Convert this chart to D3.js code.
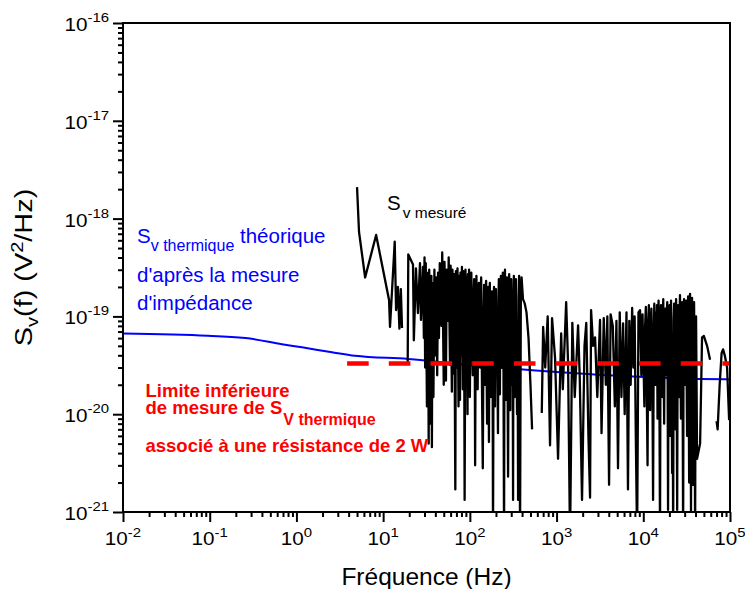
<!DOCTYPE html>
<html><head><meta charset="utf-8">
<script src="https://cdn.jsdelivr.net/npm/d3@7/dist/d3.min.js"></script>
<style>
body{margin:0;background:#fff}
svg{display:block}
text{font-family:"Liberation Sans",Arial,Helvetica,sans-serif}
</style>
</head><body>
<svg id="chart" width="745" height="589"></svg>
<script>
// ---------- data ----------
const xMajorTicks = [1e-2, 1e-1, 1e0, 1e1, 1e2, 1e3, 1e4, 1e5];
const xTickExponents = ["-2", "-1", "0", "1", "2", "3", "4", "5"];
const yMajorTicks = [1e-21, 1e-20, 1e-19, 1e-18, 1e-17, 1e-16];
const yTickExponents = ["-21", "-20", "-19", "-18", "-17", "-16"];

// theoretical thermal noise from impedance measurement (blue)
const theoFreq = [0.01, 0.095, 0.277, 0.68, 1.16, 2.57, 4.74, 19.4, 100, 1000, 10000, 45000, 100000];
const theoPsd  = [6.7e-20, 6.35e-20, 5.97e-20, 5.2e-20, 4.83e-20, 4.3e-20, 3.96e-20, 3.67e-20, 3.18e-20, 2.7e-20, 2.4e-20, 2.29e-20, 2.27e-20];

// lower measurement limit (red dashed)
const limitFreq = [3.84, 100000];
const limitPsd  = [3.3e-20, 3.3e-20];

// measured spectrum (black); null = point not drawable on log scale
const measFreq = [
  5.0, 5.27, 6.2, 8.3, 11.7, 12.0, 13.6, 14.1, 14.8, 15.4, 16.0, 16.5, 17.5, 19.2, 19.5, 22.1, 22.6, 23.9, 25.2, 26.6, 27.3, 28.8,
  29.5, 30, 30.5, 31, 32, 33, 33.5, 34, 35, 36, 36.5, 37, 38, 39, 40, 41, 42, 43, 44, 45,
  47, 48, 50, 51, 53, 54, 56, 57, 59, 60, 62, 63, 65, 66, 68, 69, 71, 72, 74, 75, 77, 78, 80, 81, 83, 84, 86, 87, 89, 91, 92, 94, 95, 97, 98,
  100, 102, 104, 106, 108, 110, 112, 114, 115, 117, 119, 121, 123, 125, 127, 129, 131, 133, 135, 137, 139, 141, 144, 146, 148, 150,
  152, 154, 156, 158, 160, 162, 164, 166, 168, 170, 172, 175, 178, 180, 183, 185, 188, 190, 193, 195, 198, 200, 203, 205, 208, 211,
  214, 216, 219, 222, 225, 228, 231, 234, 237, 240, 244, 248, 251, 254, 257, 260, 264, 268, 272, 276, 280, 284, 288, 292, 296, 300,
  304, 308, 312, 315, 318, 322, 326, 330, 335, 340, 345, 350, 355, 360, 365, 370, 375, 379, 387, 395, 410, 430, 450, 475, 500, 522, 600,
  675, 700, 740, 790, 841, 887, 960, 1040, 1130, 1180, 1290, 1357, 1430, 1520, 1620, 1770, 1850, 1966, 2100, 2200, 2330, 2433, 2500, 2640, 2780, 2950, 3170,
  3300, 3500, 3700, 3850, 4030, 4200, 4450, 4700, 4900, 5110, 5350, 5600, 5850, 6100, 6400, 6660, 6900, 7150, 7440, 7700, 7950, 8200, 8490, 8800, 9180, 9500, 9800,
  10300, 10500, 10700, 10950, 11200, 11400, 11600, 11800, 12000, 12200, 12400, 12700, 12970, 13200, 13400, 13600, 13800, 14000, 14200, 14400,
  14600, 14800, 15000, 15300, 15600, 15800, 16000, 16250, 16500, 16750, 17000, 17200, 17400, 17650, 17900, 18150, 18400, 18650, 18900, 19100,
  19300, 19550, 19800, 20100, 20400, 20650, 20900, 21200, 21500, 21800, 22100, 22400, 22700, 23000, 23300, 23600, 23900, 24250, 24600, 24900,
  25200, 25550, 25900, 26200, 26500, 26850, 27200, 27600, 28000, 28400, 28800, 29150, 29500, 29900, 30300, 30750, 31200, 31600, 32000, 32450,
  32900, 33350, 33800, 34200, 34600, 35050, 35500, 36000, 36500, 37000, 37500, 38000, 38500, 39050, 39600, 40100, 40600, 41150, 41700,
  45200, 47600, 50000, 54400, 58900, 64000, 70000, 72000, 76000, 80000, 83200, 87000, 92600, 97700
];
const measPsd = [
  2.1e-18, 7.3e-19, 2.5e-19, 6.8e-19, 1.47e-19, 7.8e-20, 5.8e-19, 1.16e-19, 2.0e-19, 7.5e-20, 1.9e-19, 7.6e-20, null, 3.4e-20, 4.3e-19, 3.4e-19, 5.7e-20, 3.1e-19, 1.08e-19, 3.5e-19, 9.2e-20, 3.2e-19,
  6e-20, 4e-19, 3e-20, 3.5e-19, 1.2e-20, 2.8e-19, 5e-21, 3e-19, 8e-21, 2.6e-19, 4.6e-21, 2.2e-19, 1.5e-20, 3e-19, 4e-20, 2.5e-19, 2.5e-20, 2.8e-19, 6e-20, 3.5e-19,
  8e-20, 4.5e-19, 2e-20, 3.6e-19, 2.2e-20, 3e-19, 9e-20, 4e-19, 3.2e-20, 3.3e-19, 1.7e-20, 3e-19, 2.6e-20, 2.7e-19, 1.7e-21, 2.9e-19, 3e-20, 3.1e-19, 1.2e-20, 2.6e-19,
  1.4e-20, 2.8e-19, 4e-20, 3.2e-19, 1.8e-20, 2.9e-19, 6e-20, 1.33e-21, 3e-19, 3e-20, 2.5e-19, 1e-20, 2.7e-19, 4.5e-20, 3e-19,
  1.5e-20, 1.2e-19, 2.8e-19, 6e-20, 2.5e-20, 1.5e-19, 2.4e-19, 3e-20, 3e-21, 1e-19, 2.6e-19, 7e-20, 1.8e-20, 1.3e-19, 2.2e-19, 5e-20, 3e-20, 1.6e-19, 2.5e-19, 4e-20,
  1e-20, 2.8e-21, 1.1e-19, 2.1e-19, 6e-20, 2e-20,
  1.4e-19, 2.3e-19, 3e-20, 8e-21, 9e-20, 2e-19, 3e-20, 5.2e-21, 1.2e-19, 2.2e-19, 5e-20, 1.5e-20, 1e-19, 1.8e-19, 4e-20, 5e-22, 1.1e-19, 2e-19, 5e-20, 1.2e-20,
  1.3e-19, 1.9e-19, 6e-20, 2.5e-20, 3e-20, 6.4e-21,
  1.5e-19, 2.4e-19, 5e-20, 1.6e-20, 1.2e-19, 2.6e-19, 7e-20, 3e-20, 1.4e-19, 2.8e-19, 4e-20, 5e-22, 1.6e-19, 3e-19, 6e-20, 1.4e-20, 1.5e-19, 2.5e-19, 3e-20, 2.3e-21,
  1.2e-19, 2.7e-19, 5e-20, 1.1e-20, 1.3e-19, 2.4e-19,
  6e-20, 2e-20, 4e-20, 1.33e-21, 1.4e-19, 2.6e-19, 5e-20, 1.5e-20, 1.3e-19, 2.4e-19, 4e-20, 1e-20, 9e-20, 1.33e-21, 1.5e-19, 2.6e-19, 3e-20, 5e-22, 1.5e-19, 2.5e-19,
  1.5e-19, 1.35e-19, 1.1e-19, 6e-20, 2e-20, 7e-21, null,
  1.03e-20, 7.8e-20, 3e-20, 1e-19, 4.8e-21, 9.6e-20, 3.8e-20, 3.5e-21, 6.7e-20, 1.8e-20, 1.4e-19, 3.3e-20, 5e-22, 8.6e-20, 1.5e-20, 8.1e-20, 2.4e-20, 1.33e-21, 5e-20, 8.6e-20,
  6e-21, 1.4e-21, 1.16e-19, 5e-20, 6.1e-20, 1.5e-20, 9.2e-20,
  6.4e-21, 9.6e-20, 2e-20, 1e-19, 1.9e-21, 1.05e-19, 8e-20, 1.2e-20, 9e-20, 2.8e-21, 1.1e-19, 1.5e-20, 8.5e-20, 1e-20, 1.1e-19, 1.7e-21, 9e-20, 2e-20, 1.22e-19, 3e-20,
  1e-19, 6e-21, 5e-22, 1.1e-19, 1.16e-19, 2.5e-20, 1.05e-19,
  1.2e-20, 8e-20, 1.25e-19, 2e-20, 3e-21, 9e-20, 1.3e-19, 3e-20, 1.1e-20, 7e-20, 1.2e-19, 4e-20, 1.33e-21, 6e-20, 1.35e-19, 5e-20, 2e-20, 1.1e-19, 6e-20, 1.3e-19,
  9e-21, 5e-20, 1.45e-19, 3e-20, 5e-22, 8e-20, 1.3e-19, 4e-20, 1.5e-20, 1e-19, 1.5e-19, 3e-20, 8e-21, 7e-20, 1.2e-19, 5e-20, 2.5e-20, 1.1e-19, 1.4e-19, 2e-20,
  1.05e-21, 5e-20, 7e-20, 1.3e-19, 6e-21, 6e-20, 1.45e-19, 3e-20, 2.5e-21, 4e-20, 5e-22, 9e-20, 1.35e-19, 4e-20, 7e-21, 8e-20, 1.5e-19, 2.5e-20, 1.05e-21, 7e-20,
  1.3e-19, 5e-20, 1.5e-20, 9e-20, 1.65e-19, 3e-20, 9e-21, 1e-19, 1.4e-19, 3e-20, 5e-22, 8e-20, 1.5e-19, 5e-20, 2e-20, 1.2e-19, 1.45e-19, 2.5e-20, 6e-21, 9e-20,
  1.6e-19, 3e-20, 2e-21, 7e-20, 1.7e-19, 4e-20, 1e-21, 8e-20, 1.55e-19, 2e-20, 1.9e-21, 6e-20, 1.4e-19, 3e-20, 5e-22, 5e-20, 1e-19, 2e-20, 3.5e-21,
  5e-21, 6.1e-20, 6.3e-20, 5e-20, 3.6e-20, null, 8.5e-21, 7e-21, 2e-20, 4.2e-20, 4.6e-20, 4e-20, 3e-20, 8.7e-21
];

// ---------- layout ----------
const plot = {left: 123, right: 730, top: 23, bottom: 512};
const svg = d3.select("#chart");

const x = d3.scaleLog().domain([1e-2, 1e5]).range([plot.left, plot.right]);
const y = d3.scaleLog().domain([1e-21, 1e-16]).range([plot.bottom, plot.top]);

// minor ticks
const xMinor = [], yMinor = [];
xMajorTicks.slice(0, -1).forEach(d => { for (let m = 2; m <= 9; m++) xMinor.push(d * m); });
yMajorTicks.slice(0, -1).forEach(d => { for (let m = 2; m <= 9; m++) yMinor.push(d * m); });

svg.append("defs").append("clipPath").attr("id", "clip")
  .append("rect").attr("x", plot.left).attr("y", plot.top)
  .attr("width", plot.right - plot.left).attr("height", plot.bottom - plot.top);

const g = svg.append("g").attr("clip-path", "url(#clip)");

// blue theoretical curve
const theo = theoFreq.map((f, i) => [f, theoPsd[i]]);
g.append("path").datum(theo)
  .attr("fill", "none").attr("stroke", "#0000ff").attr("stroke-width", 2)
  .attr("d", d3.line().x(d => x(d[0])).y(d => y(d[1])).curve(d3.curveMonotoneX));

// black measured curve
const meas = measFreq.map((f, i) => [f, measPsd[i]]);
g.append("path").datum(meas)
  .attr("fill", "none").attr("stroke", "#000").attr("stroke-width", 2.3)
  .attr("stroke-linejoin", "round")
  .attr("d", d3.line().defined(d => d[1] !== null).x(d => x(d[0])).y(d => y(d[1])));

// red dashed limit
const lim = limitFreq.map((f, i) => [f, limitPsd[i]]);
g.append("path").datum(lim)
  .attr("fill", "none").attr("stroke", "#ff0000").attr("stroke-width", 4.5)
  .attr("stroke-dasharray", "21.6,20.1")
  .attr("d", d3.line().x(d => x(d[0])).y(d => y(d[1])));

// axes
const axStyle = sel => {
  sel.select(".domain").remove();
  sel.selectAll("line").attr("stroke", "#000").attr("stroke-width", 2);
};
svg.append("g").attr("transform", `translate(0,${plot.bottom})`)
  .call(d3.axisBottom(x).tickValues(xMajorTicks).tickSize(10).tickFormat(""))
  .call(axStyle);
svg.append("g").attr("transform", `translate(0,${plot.bottom})`)
  .call(d3.axisBottom(x).tickValues(xMinor).tickSize(5).tickFormat(""))
  .call(axStyle);
svg.append("g").attr("transform", `translate(${plot.left},0)`)
  .call(d3.axisLeft(y).tickValues(yMajorTicks).tickSize(10).tickFormat(""))
  .call(axStyle);
svg.append("g").attr("transform", `translate(${plot.left},0)`)
  .call(d3.axisLeft(y).tickValues(yMinor).tickSize(5).tickFormat(""))
  .call(axStyle);

// frame
svg.append("rect").attr("x", plot.left).attr("y", plot.top)
  .attr("width", plot.right - plot.left).attr("height", plot.bottom - plot.top)
  .attr("fill", "none").attr("stroke", "#000").attr("stroke-width", 2);

// tick labels (slightly wide face, like the original)
xMajorTicks.forEach((v, i) => {
  const t = svg.append("text")
    .attr("transform", `translate(${x(v)},545) scale(1.15,1)`)
    .attr("text-anchor", "middle").attr("font-size", 18).attr("fill", "#000");
  t.append("tspan").text("10");
  t.append("tspan").attr("font-size", 13).attr("dy", -8.5).text(xTickExponents[i]);
});
yMajorTicks.forEach((v, i) => {
  const t = svg.append("text")
    .attr("transform", `translate(109,${y(v) + 8}) scale(1.15,1)`)
    .attr("text-anchor", "end").attr("font-size", 18).attr("fill", "#000");
  t.append("tspan").text("10");
  t.append("tspan").attr("font-size", 13).attr("dy", -9).text(yTickExponents[i]);
});

// axis titles
svg.append("text").attr("x", (plot.left + plot.right) / 2).attr("y", 585)
  .attr("text-anchor", "middle").attr("font-size", 24.5).text("Fréquence (Hz)");

const yt = svg.append("text")
  .attr("transform", `translate(32,${(plot.top + plot.bottom) / 2}) rotate(-90) scale(1.18,1)`)
  .attr("text-anchor", "middle").attr("font-size", 24.5);
yt.append("tspan").text("S");
yt.append("tspan").attr("font-size", 17).attr("dy", 6).text("v");
yt.append("tspan").attr("dy", -6).text("(f) (V");
yt.append("tspan").attr("font-size", 17).attr("dy", -9).text("2");
yt.append("tspan").attr("dy", 9).text("/Hz)");

// annotations
const a1 = svg.append("text").attr("x", 387).attr("y", 210).attr("font-size", 20.5).attr("fill", "#000");
a1.append("tspan").text("S");
a1.append("tspan").attr("font-size", 15.5).attr("dx", 2).attr("dy", 8).text("v mesuré");

// blue annotation: one multi-line text block
const b = svg.append("text").attr("x", 137).attr("y", 243)
  .attr("fill", "#0000ff").attr("font-size", 20.5);
b.append("tspan").text("S");
b.append("tspan").attr("font-size", 16).attr("dy", 8).text("v thermique");
b.append("tspan").attr("dy", -8).text(" théorique");
b.append("tspan").attr("x", 137).attr("dy", 38.5).text("d'après la mesure");
b.append("tspan").attr("x", 137).attr("dy", 28.5).text("d'impédance");

// red annotation: one multi-line text block
const r = svg.append("text").attr("x", 145.5).attr("y", 396.5)
  .attr("fill", "#ff0000").attr("font-size", 18.5).attr("font-weight", "bold");
r.append("tspan").text("Limite inférieure");
r.append("tspan").attr("x", 145.5).attr("dy", 17).text("de mesure de S");
r.append("tspan").attr("font-size", 16).attr("dx", 1).attr("dy", 11.5).text("V thermique");
r.append("tspan").attr("x", 145.5).attr("dy", 26.5).text("associé à une résistance de 2 W");
</script>
</body></html>
